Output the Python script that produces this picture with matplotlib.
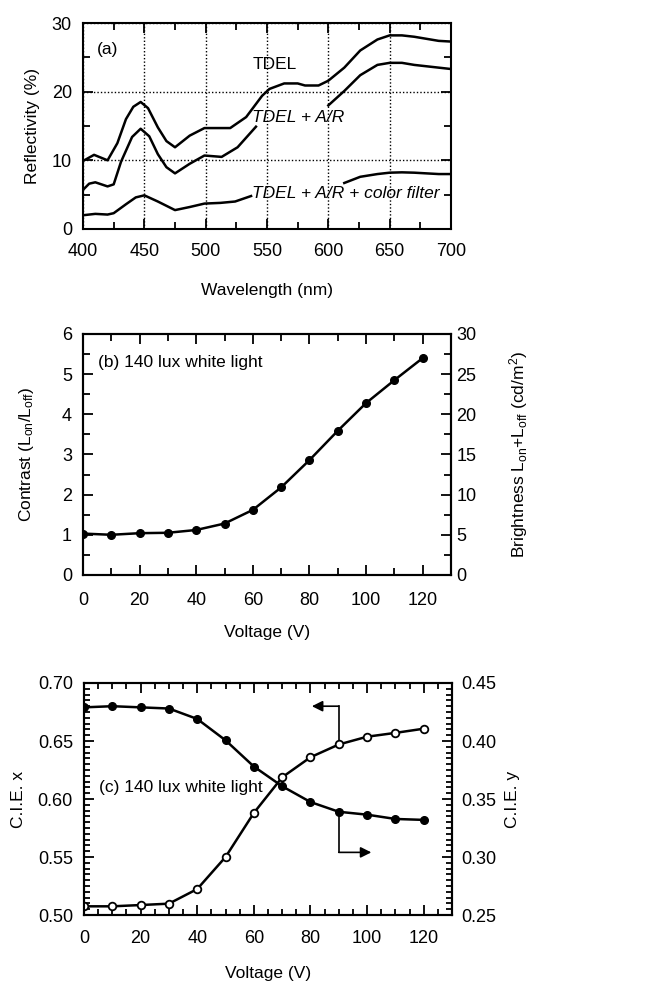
import matplotlib
matplotlib.use("Agg")
import matplotlib.pyplot as plt
import numpy as np
from matplotlib.ticker import MultipleLocator

plt.rcParams['font.family'] = ['Liberation Sans', 'DejaVu Sans']
plt.rcParams['font.size'] = 12.5
plt.rcParams['xtick.labelsize'] = 13
plt.rcParams['ytick.labelsize'] = 13
plt.rcParams['axes.linewidth'] = 1.5
plt.rcParams['xtick.direction'] = 'in'
plt.rcParams['ytick.direction'] = 'in'

# (a) reflectivity spectra, NaN where the curve is broken by the label
wl_tdel = [400, 409, 420, 428, 435, 441, 447, 453, 461, 468, 475, 487, 499, 510,
           520, 533, 546, 552, 564, 575, 581, 592, 600, 613, 626, 640, 650, 660,
           670, 680, 690, 700]
r_tdel = [9.9, 10.8, 10.0, 12.5, 16.0, 17.8, 18.5, 17.6, 14.8, 12.8, 11.9, 13.6,
          14.7, 14.7, 14.7, 16.3, 19.4, 20.4, 21.2, 21.2, 20.9, 20.9, 21.6, 23.5,
          26.0, 27.6, 28.2, 28.2, 28.0, 27.7, 27.4, 27.3]

wl_ar = [400, 405, 410, 420, 425, 431, 440, 447, 454, 461, 468, 475, 487, 499,
         513, 526, 538, 541, 570, 600, 613, 626, 640, 650, 660, 670, 680, 690, 700]
r_ar = [5.7, 6.6, 6.8, 6.2, 6.5, 9.8, 13.4, 14.6, 13.5, 10.9, 9.0, 8.1, 9.5, 10.7,
        10.5, 11.9, 14.3, 14.9, np.nan, 18.0, 20.1, 22.4, 23.9, 24.2, 24.2, 23.9,
        23.7, 23.5, 23.3]

wl_cf = [400, 410, 420, 425, 435, 443, 450, 461, 475, 487, 499, 512, 524, 537,
         580, 613, 626, 640, 650, 660, 670, 680, 690, 700]
r_cf = [2.0, 2.2, 2.1, 2.3, 3.6, 4.6, 4.9, 4.0, 2.75, 3.2, 3.7, 3.8, 4.0, 4.8,
        np.nan, 6.7, 7.6, 8.0, 8.2, 8.25, 8.2, 8.1, 8.0, 8.0]

# (b) contrast vs voltage
volt = [0, 10, 20, 30, 40, 50, 60, 70, 80, 90, 100, 110, 120]
contrast = [1.03, 1.00, 1.04, 1.05, 1.12, 1.28, 1.62, 2.18, 2.86, 3.59, 4.28, 4.85, 5.40]

# (c) CIE coordinates vs voltage
cie_x = [0.5075, 0.5075, 0.5086, 0.5098, 0.5224, 0.550, 0.588, 0.6187, 0.636,
         0.647, 0.6537, 0.657, 0.6606]
cie_y = [0.429, 0.430, 0.429, 0.428, 0.419, 0.4006, 0.378, 0.361, 0.3474,
         0.339, 0.3365, 0.3328, 0.332]

fig = plt.figure(figsize=(6.61, 9.84), dpi=100)

# ---------- (a)
ax1 = fig.add_axes([0.1256, 0.7673, 0.5567, 0.2093])
ax1.plot(wl_tdel, r_tdel, color='black', lw=1.8)
ax1.plot(wl_ar, r_ar, color='black', lw=1.8)
ax1.plot(wl_cf, r_cf, color='black', lw=1.8)
ax1.set_xlim(400, 700)
ax1.set_ylim(0, 30)
ax1.xaxis.set_major_locator(MultipleLocator(50))
ax1.xaxis.set_minor_locator(MultipleLocator(25))
ax1.yaxis.set_major_locator(MultipleLocator(10))
ax1.yaxis.set_minor_locator(MultipleLocator(5))
ax1.grid(True, which='major', color='black', ls=(0, (1, 1.5)), lw=1.0)
ax1.tick_params(which='both', top=True, right=True, width=1.3)
ax1.tick_params(which='major', length=7)
ax1.tick_params(which='minor', length=5)
ax1.tick_params(axis='x', pad=10)
ax1.tick_params(axis='y', pad=8)
ax1.set_xlabel('Wavelength (nm)')
ax1.set_ylabel('Reflectivity (%)')
ax1.xaxis.set_label_coords(0.5, -0.262)
ax1.yaxis.set_label_coords(-0.117, 0.5)
ax1.text(411, 26.1, '(a)', va='center')
ax1.text(538, 23.9, 'TDEL', va='center')
ax1.text(538, 16.3, 'TDEL + A/R', va='center', style='italic')
ax1.text(538, 5.2, 'TDEL + A/R + color filter', va='center', style='italic')

# ---------- (b)
ax2 = fig.add_axes([0.1256, 0.4157, 0.5567, 0.2449])
ax2.plot(volt, contrast, color='black', lw=1.8, marker='o', ms=5.5)
ax2.set_xlim(0, 130)
ax2.set_ylim(0, 6)
ax2.xaxis.set_major_locator(MultipleLocator(20))
ax2.xaxis.set_minor_locator(MultipleLocator(10))
ax2.yaxis.set_major_locator(MultipleLocator(1))
ax2.yaxis.set_minor_locator(MultipleLocator(0.5))
ax2.tick_params(which='both', top=True, width=1.3)
ax2.tick_params(which='major', length=7)
ax2.tick_params(which='minor', length=5)
ax2.tick_params(axis='x', pad=12)
ax2.tick_params(axis='y', pad=8)
ax2.set_xlabel('Voltage (V)')
ax2.set_ylabel(r'Contrast ($\mathregular{L_{on}/L_{off}}$)')
ax2.xaxis.set_label_coords(0.5, -0.207)
ax2.yaxis.set_label_coords(-0.128, 0.5)
ax2.text(5.3, 5.3, '(b) 140 lux white light', va='center')
ax2r = ax2.twinx()
ax2r.set_ylim(0, 30)
ax2r.yaxis.set_major_locator(MultipleLocator(5))
ax2r.yaxis.set_minor_locator(MultipleLocator(2.5))
ax2r.tick_params(which='both', width=1.3, pad=4)
ax2r.tick_params(which='major', length=7)
ax2r.tick_params(which='minor', length=5)
ax2r.set_ylabel(r'Brightness $\mathregular{L_{on}}$+$\mathregular{L_{off}}$ (cd/m$\mathregular{^2}$)')
ax2r.yaxis.set_label_coords(1.152, 0.5)

# ---------- (c)
ax3 = fig.add_axes([0.1271, 0.0701, 0.5567, 0.2358])
ax3.set_xlim(0, 130)
ax3.set_ylim(0.50, 0.70)
ax3.xaxis.set_major_locator(MultipleLocator(20))
ax3.xaxis.set_minor_locator(MultipleLocator(5))
ax3.yaxis.set_major_locator(MultipleLocator(0.05))
ax3.yaxis.set_minor_locator(MultipleLocator(0.005))
ax3.yaxis.set_major_formatter(plt.FormatStrFormatter('%.2f'))
ax3.tick_params(which='both', top=True, width=1.3)
ax3.tick_params(which='major', length=7)
ax3.tick_params(which='minor', length=4)
ax3.tick_params(axis='x', pad=11)
ax3.tick_params(axis='y', pad=8)
ax3.set_xlabel('Voltage (V)')
ax3.set_ylabel('C.I.E. x')
ax3.xaxis.set_label_coords(0.5, -0.22)
ax3.yaxis.set_label_coords(-0.158, 0.5)
ax3r = ax3.twinx()
ax3r.set_ylim(0.25, 0.45)
ax3r.yaxis.set_major_locator(MultipleLocator(0.05))
ax3r.yaxis.set_minor_locator(MultipleLocator(0.005))
ax3r.yaxis.set_major_formatter(plt.FormatStrFormatter('%.2f'))
ax3r.tick_params(which='both', width=1.3, pad=6.5)
ax3r.tick_params(which='major', length=7)
ax3r.tick_params(which='minor', length=4)
ax3r.set_ylabel('C.I.E. y')
ax3r.yaxis.set_label_coords(1.144, 0.5)

ax3.plot(volt, cie_x, color='black', lw=1.8, marker='o', ms=5.5,
         mfc='white', mec='black', mew=1.3, zorder=3)
ax3r.plot(volt, cie_y, color='black', lw=1.8, marker='o', ms=5.5, zorder=3)

# pointer arrows
ax3.plot([90, 90], [0.647, 0.680], color='black', lw=1.2)
ax3.annotate('', xy=(80.5, 0.680), xytext=(90, 0.680),
             arrowprops=dict(arrowstyle='-|>', color='black', lw=1.2,
                             mutation_scale=16, shrinkA=0, shrinkB=0))
ax3.plot([90, 90], [0.589, 0.554], color='black', lw=1.2)
ax3.annotate('', xy=(101.5, 0.554), xytext=(90, 0.554),
             arrowprops=dict(arrowstyle='-|>', color='black', lw=1.2,
                             mutation_scale=16, shrinkA=0, shrinkB=0))
ax3.text(5.3, 0.6095, '(c) 140 lux white light', va='center')

plt.savefig("out.png", dpi=100)
